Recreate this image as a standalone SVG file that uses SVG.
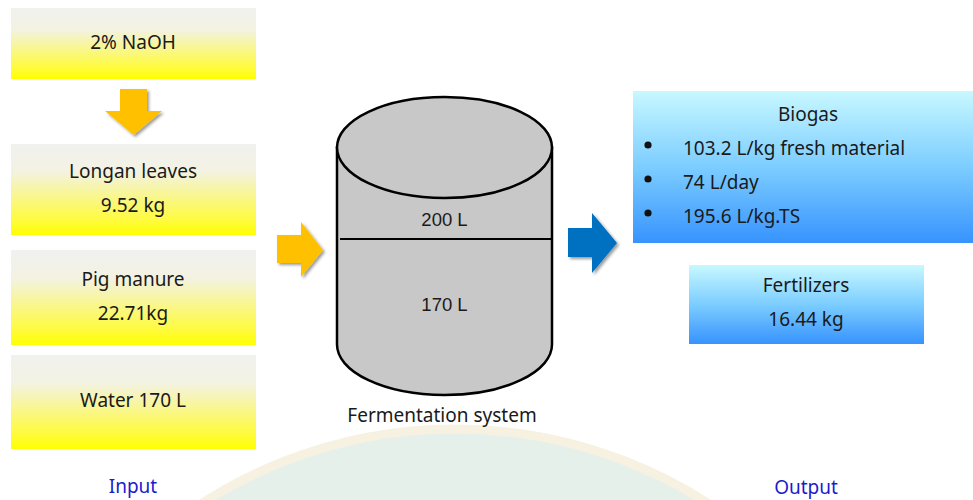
<svg xmlns="http://www.w3.org/2000/svg" width="973" height="500" viewBox="0 0 973 500">
  <defs>
    <linearGradient id="yellowFill" x1="0" y1="0" x2="0" y2="1">
      <stop offset="0" stop-color="#f1f1ef"/>
      <stop offset="0.3" stop-color="#f3f2e2"/>
      <stop offset="0.85" stop-color="#fffb3a"/>
      <stop offset="1" stop-color="#ffff00"/>
    </linearGradient>
    <linearGradient id="blueFill" x1="0" y1="0" x2="0" y2="1">
      <stop offset="0" stop-color="#c8f8ff"/>
      <stop offset="0.5" stop-color="#7ccdff"/>
      <stop offset="1" stop-color="#3793fe"/>
    </linearGradient>
    <filter id="softShadow" x="-30%" y="-30%" width="160%" height="160%">
      <feDropShadow dx="2" dy="2" stdDeviation="1.6" flood-color="#000" flood-opacity="0.4"/>
    </filter>
    <style>
      .label { font-family: "Noto Sans", "DejaVu Sans", sans-serif; font-size: 19px; fill: #1a1a1a; }
      .mid { text-anchor: middle; }
      .caption { font-family: "Noto Sans", "DejaVu Sans", sans-serif; font-size: 19px; fill: #1c1ccc; text-anchor: middle; }
      .vol { font-family: "Liberation Sans", Arial, sans-serif; font-size: 18.5px; fill: #1a1a1a; text-anchor: middle; }
      .inBox { fill: url(#yellowFill); }
      .outBox { fill: url(#blueFill); }
      .arrowIn { fill: #ffc000; filter: url(#softShadow); }
      .arrowOut { fill: #0070c0; filter: url(#softShadow); }
      .tank { fill: #c8c8c8; stroke: #000; stroke-width: 2.5; }
    </style>
  </defs>

  <rect width="973" height="500" fill="#ffffff"/>

  <!-- faint seal in the background -->
  <g id="seal">
    <circle cx="455" cy="896" r="467" fill="#e5f0ea" stroke="#f6f1e1" stroke-width="9"/>
  </g>

  <!-- input materials -->
  <g id="naoh">
    <rect class="inBox" x="11" y="8" width="245" height="71"/>
    <text class="label mid" x="133" y="49">2% NaOH</text>
  </g>
  <g id="longan">
    <rect class="inBox" x="11" y="144" width="245" height="91"/>
    <text class="label mid" x="133" y="178">Longan leaves</text>
    <text class="label mid" x="133" y="212">9.52 kg</text>
  </g>
  <g id="manure">
    <rect class="inBox" x="11" y="250" width="245" height="95"/>
    <text class="label mid" x="133" y="286">Pig manure</text>
    <text class="label mid" x="133" y="320">22.71kg</text>
  </g>
  <g id="water">
    <rect class="inBox" x="11" y="355" width="245" height="94"/>
    <text class="label mid" x="133" y="407">Water 170 L</text>
  </g>
  <g id="input-label">
    <text class="caption" x="133" y="493">Input</text>
  </g>

  <!-- fermentation tank -->
  <g id="tank">
    <path class="tank" d="M337,147.5 L337,344.5 A107.5,50.5 0 0 0 552,344.5 L552,147.5 Z"/>
    <ellipse class="tank" cx="444.5" cy="147.5" rx="107.5" ry="50.5"/>
    <line x1="340" y1="239" x2="553" y2="239" stroke="#000" stroke-width="2"/>
    <text class="vol" x="444.5" y="226">200 L</text>
    <text class="vol" x="444.5" y="311">170 L</text>
    <text class="label mid" x="442" y="422">Fermentation system</text>
  </g>

  <!-- outputs -->
  <g id="biogas">
    <rect class="outBox" x="633" y="91" width="340" height="152"/>
    <text class="label mid" x="808" y="121">Biogas</text>
    <circle cx="648" cy="145" r="3.6" fill="#111"/>
    <circle cx="648" cy="179" r="3.6" fill="#111"/>
    <circle cx="648" cy="213" r="3.6" fill="#111"/>
    <text class="label" x="683" y="155">103.2 L/kg fresh material</text>
    <text class="label" x="683" y="189">74 L/day</text>
    <text class="label" x="683" y="223">195.6 L/kg.TS</text>
  </g>
  <g id="fertilizers">
    <rect class="outBox" x="689" y="265" width="235" height="79"/>
    <text class="label mid" x="806" y="292">Fertilizers</text>
    <text class="label mid" x="806" y="326">16.44 kg</text>
  </g>
  <g id="output-label">
    <text class="caption" x="806" y="494">Output</text>
  </g>

  <!-- block arrows -->
  <g id="connectors">
    <polygon class="arrowIn" points="120,89 147,89 147,111 162,111 133.5,135 105,111 120,111"/>
    <polygon class="arrowIn" points="277,235 301,235 301,222 323,250 301,277 301,263 277,263"/>
    <polygon class="arrowOut" points="568,228 592,228 592,213 617,243 592,273 592,257 568,257"/>
  </g>
</svg>
